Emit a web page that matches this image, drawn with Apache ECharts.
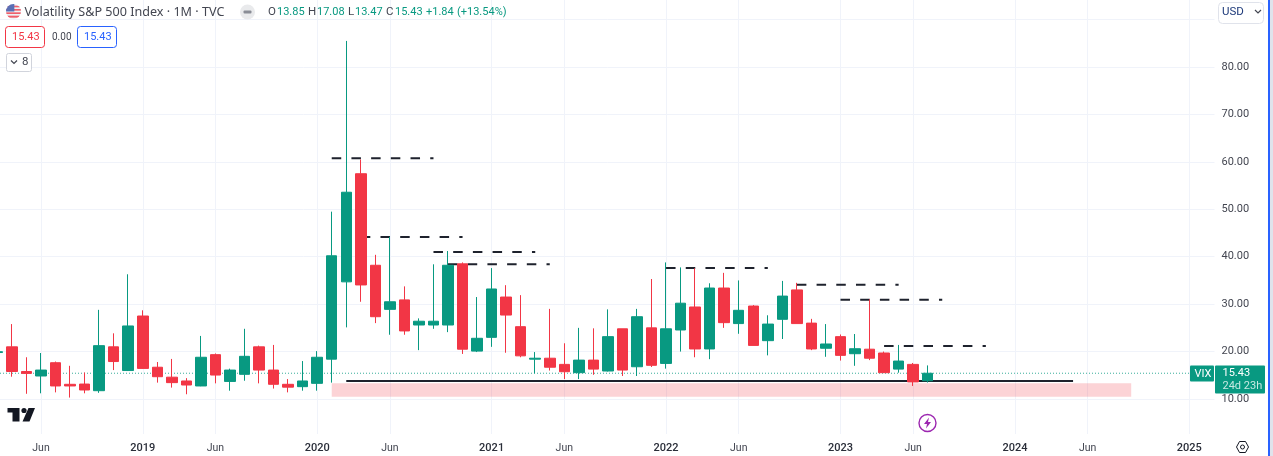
<!DOCTYPE html>
<html>
<head>
<meta charset="utf-8">
<title>VIX monthly</title>
<script src="https://cdn.jsdelivr.net/npm/echarts@6/dist/echarts.min.js"></script>
<style>
html, body { margin: 0; padding: 0; background: #fff; }
#chart { width: 1273px; height: 456px; }
</style>
</head>
<body>
<div id="chart"></div>
<script>
// monthly candles, Mar 2018 .. Jul 2023
var months = ['2018-03','2018-04','2018-05','2018-06','2018-07','2018-08','2018-09','2018-10','2018-11','2018-12',
    '2019-01','2019-02','2019-03','2019-04','2019-05','2019-06','2019-07','2019-08','2019-09','2019-10','2019-11','2019-12',
    '2020-01','2020-02','2020-03','2020-04','2020-05','2020-06','2020-07','2020-08','2020-09','2020-10','2020-11','2020-12',
    '2021-01','2021-02','2021-03','2021-04','2021-05','2021-06','2021-07','2021-08','2021-09','2021-10','2021-11','2021-12',
    '2022-01','2022-02','2022-03','2022-04','2022-05','2022-06','2022-07','2022-08','2022-09','2022-10','2022-11','2022-12',
    '2023-01','2023-02','2023-03','2023-04','2023-05','2023-06','2023-07'];
var opens = [19.8,21.0,15.8,14.85,17.65,13.1,13.15,11.75,21.0,16.0,
    27.5,16.7,14.6,13.8,12.75,19.35,13.7,15.2,21.0,16.1,13.1,12.6,
    13.3,18.4,34.7,57.5,38.2,28.9,30.9,25.6,25.6,25.6,38.5,20.1,
    23.0,31.5,25.25,18.4,18.6,17.3,15.55,18.2,15.9,24.8,16.8,25.0,
    17.5,24.55,29.4,20.55,33.4,25.9,29.6,22.3,26.8,33.0,26.0,20.7,
    23.15,19.55,20.5,19.7,16.3,17.3,13.85];
var closes = [19.97,15.8,15.4,16.1,12.75,12.75,11.9,21.25,17.9,25.4,
    16.45,14.7,13.45,12.95,18.8,15.05,16.1,19.0,16.1,13.1,12.5,13.8,
    18.8,40.2,53.6,34.05,27.35,30.5,24.35,26.4,26.4,38.2,20.5,22.8,
    33.2,27.7,19.1,18.6,16.7,15.75,18.2,16.3,23.15,16.1,27.35,17.1,
    24.8,30.2,20.55,33.4,26.1,28.7,21.3,25.8,31.7,25.9,20.55,21.6,
    19.2,20.6,18.6,15.55,18.0,13.6,15.43];
var lows = [15.5,14.7,11.1,11.2,11.4,10.3,11.2,11.3,16.1,15.9,
    16.4,13.45,12.4,11.0,12.7,13.3,11.75,13.85,13.3,12.2,11.4,11.75,
    11.75,13.45,25.1,30.5,26.0,23.55,23.55,20.3,24.8,24.1,19.5,19.9,
    21.0,19.75,18.8,15.4,16.0,14.2,14.2,15.1,15.8,14.85,14.85,16.75,
    16.4,20.0,18.8,18.4,25.0,23.75,21.3,19.2,22.65,25.9,20.3,18.9,
    18.1,17.0,18.2,15.5,15.55,12.75,13.47];
var highs = [26.0,25.8,18.8,19.7,17.9,17.0,15.6,28.8,23.85,36.3,
    28.7,17.8,18.45,14.4,23.3,19.6,16.4,24.8,21.25,21.4,14.2,18.0,
    20.1,49.5,85.5,60.5,40.4,44.2,33.75,27.0,38.4,41.2,38.8,31.5,
    37.6,34.0,31.9,19.9,29.0,21.75,25.0,24.9,28.9,24.8,29.0,35.3,
    38.8,37.75,37.55,34.4,36.6,35.0,29.8,27.65,34.9,34.5,26.9,25.8,
    23.6,23.7,31.0,20.0,21.4,17.6,17.08];

// axis ticks, as indexes into a month count starting at Mar 2018
var xTickIndex = [3,10,15,22,27,34,39,46,51,58,63,70,75,82];
var xTickLabels = ['Jun','2019','Jun','2020','Jun','2021','Jun','2022','Jun','2023','Jun','2024','Jun','2025'];
var yTicks = [10,20,30,40,50,60,70,80,90];

// hand drawn levels: [start month index, end month index, value]
var dashLevels = [[23,30,60.75],[25,32,44.15],[30,37,41.0],[31,38,38.4],[46,53,37.6],[55,62,34.1],[58,65,30.95],[61,68,21.2]];
var supportLine = [24,74,13.8];
var supportZone = [23,78,13.3,10.5];
var lastPrice = 15.43;

var xMin = 0.179, xMax = 83.73, yMin = 2.62, yMax = 94.13;
var UP = '#089981', DOWN = '#F23645', GRID = '#f0f3fa', TEXT = '#434651';
var UI_FONT = 'Roboto, sans-serif';

var candles = months.map(function (m, i) {
    return [i, opens[i], closes[i], lows[i], highs[i]];
});

var series = [];
dashLevels.forEach(function (d) {
    series.push({
        type: 'line', z: 1, silent: true, symbol: 'none',
        data: [[d[0], d[2]], [d[1], d[2]]],
        lineStyle: { color: '#1e222d', width: 2, type: [9.5, 10.2] }
    });
});
series.push({
    type: 'line', z: 1, silent: true, symbol: 'none',
    data: [[supportLine[0], supportLine[2]], [supportLine[1], supportLine[2]]],
    lineStyle: { color: '#1e222d', width: 2.2 }
});
series.push({
    type: 'line', z: 1, silent: true, symbol: 'none',
    data: [[xMin, lastPrice], [xMax, lastPrice]],
    lineStyle: { color: UP, width: 1, type: [1, 2], opacity: 0.8 }
});
series.push({
    type: 'candlestick',
    z: 3,
    barWidth: 11,
    data: candles,
    itemStyle: { color: UP, color0: DOWN, borderColor: UP, borderColor0: DOWN, borderWidth: 1 },
    markArea: {
        silent: true,
        z: 0,
        itemStyle: { color: 'rgba(242,54,69,0.22)' },
        data: [[{ coord: [supportZone[0], supportZone[2]] }, { coord: [supportZone[1], supportZone[3]] }]]
    }
});

function txt(s, x, y, color, size, extra) {
    var st = { text: s, fill: color, font: (size || 12) + 'px ' + UI_FONT, verticalAlign: 'middle', align: 'left' };
    for (var k in extra) st[k] = extra[k];
    return { type: 'text', x: x, y: y, z: 100, style: st, silent: true };
}
function box(x, y, w, h, fill, stroke, r) {
    return { type: 'rect', z: 99, silent: true, shape: { x: x, y: y, width: w, height: h, r: r || 0 },
        style: { fill: fill, stroke: stroke || null, lineWidth: 1 } };
}
function poly(points, fill) {
    return { type: 'polygon', z: 100, silent: true, shape: { points: points }, style: { fill: fill } };
}
function chevron(cx, cy, color) {
    return { type: 'polyline', z: 100, silent: true, shape: { points: [[cx - 3, cy - 1.5], [cx, cy + 1.5], [cx + 3, cy - 1.5]] },
        style: { stroke: color, fill: null, lineWidth: 1.2 } };
}

var flag = 'data:image/svg+xml,' + encodeURIComponent(
    '<svg xmlns="http://www.w3.org/2000/svg" viewBox="0 0 18 18"><clipPath id="c"><circle cx="9" cy="9" r="9"/></clipPath>' +
    '<g clip-path="url(#c)"><rect width="18" height="18" fill="#eef0f3"/><rect y="2" width="18" height="2" fill="#ef5d6a"/>' +
    '<rect y="6" width="18" height="2" fill="#ef5d6a"/><rect y="10" width="18" height="2" fill="#ef5d6a"/><rect y="14" width="18" height="2.4" fill="#ef5d6a"/>' +
    '<rect width="10" height="9" fill="#5b6fb5"/></g></svg>');

var overlays = [
    { type: 'image', z: 100, silent: true, style: { image: flag, x: 6, y: 4, width: 15, height: 15 } },
    txt('Volatility S&P 500 Index · 1M · TVC', 24.5, 12.5, TEXT, 12.5, { font: '12.6px "Noto Sans", sans-serif' }),
    { type: 'circle', z: 99, silent: true, shape: { cx: 247.5, cy: 12, r: 7.5 }, style: { fill: '#e9eaec' } },
    box(243.5, 10.5, 8, 3, '#8a8d96', null, 1),
    txt('O', 268, 12.5, TEXT, 11.5), txt('13.85', 277, 12.5, UP, 11),
    txt('H', 308, 12.5, TEXT, 11.5), txt('17.08', 317, 12.5, UP, 11),
    txt('L', 348, 12.5, TEXT, 11.5), txt('13.47', 355, 12.5, UP, 11),
    txt('C', 386, 12.5, TEXT, 11.5), txt('15.43', 395, 12.5, UP, 11),
    txt('+1.84', 426, 12.5, UP, 11), txt('(+13.54%)', 457, 12.5, UP, 11),

    box(5.5, 26.5, 39, 21, '#fff', DOWN, 3),
    txt('15.43', 12, 37, DOWN, 11),
    txt('0.00', 52, 37, TEXT, 10),
    box(77.5, 26.5, 39, 21, '#fff', '#2962FF', 3),
    txt('15.43', 84, 37, '#2962FF', 11),
    box(6.5, 53.5, 25, 18, '#fff', '#d1d4dc', 2),
    chevron(14, 62, TEXT),
    txt('8', 22, 62.5, TEXT, 11.5),

    box(1218.5, 2.5, 45, 21, '#fff', '#e0e3eb', 4),
    txt('USD', 1222, 12.5, '#1e3a7a', 11.5),
    chevron(1258, 11.5, TEXT),

    box(1190, 365.5, 24, 16, UP, null, 1),
    txt('VIX', 1194.5, 374, '#fff', 11),
    box(1215, 365.5, 50, 28, UP, null, 1),
    txt('15.43', 1222.5, 373.5, '#fff', 11),
    txt('24d 23h', 1222.5, 386, '#c6e9e2', 11),

    // tradingview mark
    poly([[7.5, 408], [19.5, 408], [19.5, 421.5], [12.5, 421.5], [12.5, 412.5], [7.5, 412.5]], '#131722'),
    { type: 'circle', z: 100, silent: true, shape: { cx: 24, cy: 410.5, r: 2.6 }, style: { fill: '#131722' } },
    poly([[28.5, 408], [35, 408], [29.5, 421.5], [22.5, 421.5]], '#131722'),

    // lightning badge
    { type: 'circle', z: 100, silent: true, shape: { cx: 927.5, cy: 423, r: 8.5 }, style: { fill: '#fff', stroke: '#9c27b0', lineWidth: 1.4 } },
    poly([[929, 417.5], [924, 424], [927, 424], [926, 428.5], [931, 422], [928, 422]], '#9c27b0'),

    // settings hexagon
    { type: 'polygon', z: 100, silent: true, shape: { points: [[1236.5, 447], [1239.5, 441.5], [1245.5, 441.5], [1248.5, 447], [1245.5, 452.5], [1239.5, 452.5]] },
        style: { fill: '#fff', stroke: '#131722', lineWidth: 1 } },
    { type: 'circle', z: 100, silent: true, shape: { cx: 1242.5, cy: 447, r: 2 }, style: { fill: '#fff', stroke: '#131722', lineWidth: 1 } },

    // window edge
    box(1268, 0, 2, 456, '#2962FF'),
    box(1270, 0, 3, 456, '#e0e3eb')
];

var option = {
    animation: false,
    backgroundColor: '#fff',
    grid: { left: 0, top: 0, width: 1214.5, height: 434 },
    xAxis: {
        type: 'value',
        min: xMin,
        max: xMax,
        axisLine: { show: false },
        axisTick: { show: false, customValues: xTickIndex },
        splitLine: { show: true, lineStyle: { color: GRID, width: 1 } },
        axisLabel: {
            customValues: xTickIndex,
            margin: 9,
            formatter: function (v) {
                var s = xTickLabels[xTickIndex.indexOf(v)];
                return s === 'Jun' ? s : '{y|' + s + '}';
            },
            color: TEXT,
            fontSize: 10.5,
            fontFamily: 'Roboto',
            rich: { y: { fontSize: 11, fontFamily: 'Roboto', color: '#2a2e39', fontWeight: 500 } }
        }
    },
    yAxis: {
        type: 'value',
        position: 'right',
        min: yMin,
        max: yMax,
        axisLine: { show: false },
        axisTick: { show: false, customValues: yTicks },
        splitLine: { show: true, lineStyle: { color: GRID, width: 1 } },
        axisLabel: {
            customValues: yTicks,
            margin: 7,
            padding: [2, 0, 0, 0],
            color: TEXT,
            fontSize: 11,
            fontFamily: 'Roboto',
            formatter: function (v) { return v.toFixed(2); }
        }
    },
    series: series,
    graphic: { elements: overlays }
};

var chart = echarts.init(document.getElementById('chart'));
chart.setOption(option);
</script>
</body>
</html>
